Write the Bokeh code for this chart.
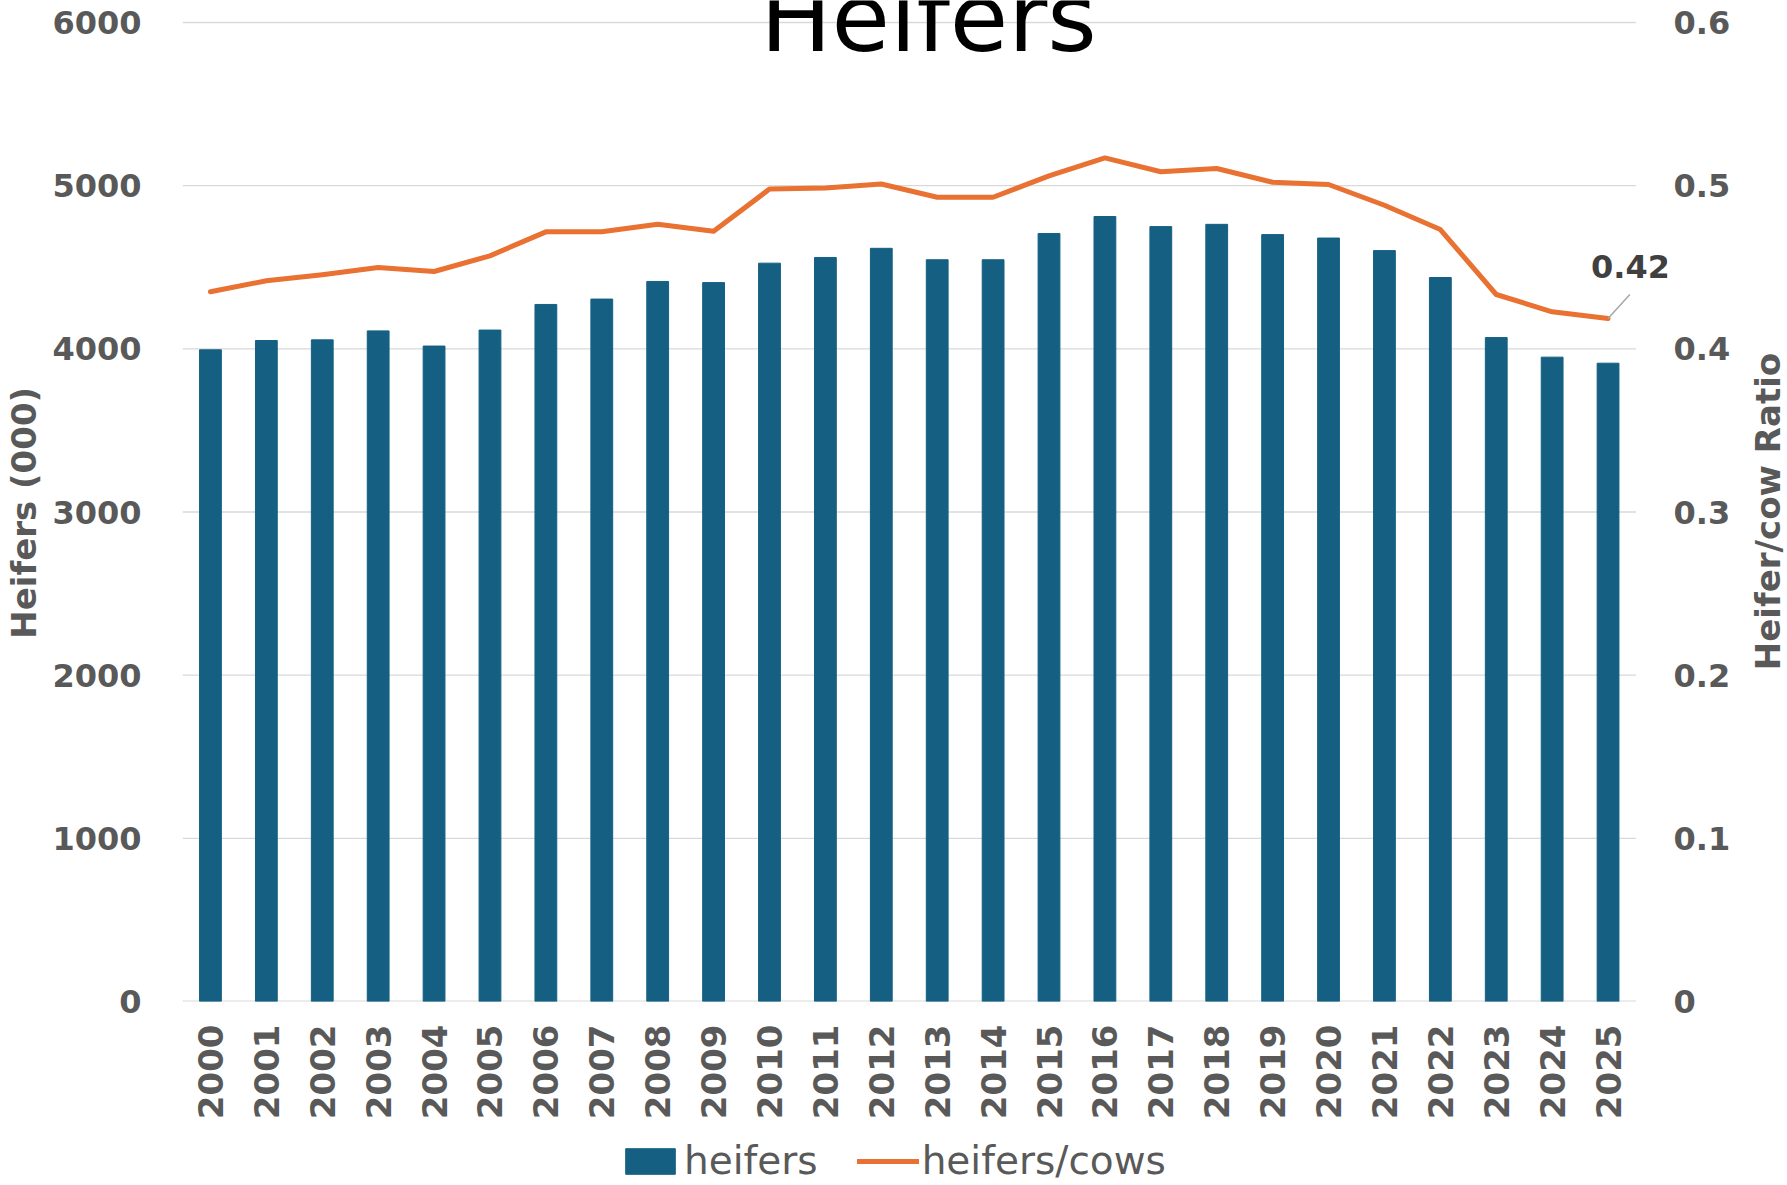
import math
from bokeh.plotting import figure
from bokeh.layouts import column, row
from bokeh.models import Range1d, LinearAxis, FixedTicker, Label, Legend, LegendItem
from bokeh.embed import file_html
from bokeh.resources import INLINE

# ---- data ----
years = list(range(2000, 2026))
heifers = [3994, 4051, 4055, 4110, 4017, 4115, 4272, 4305, 4413, 4406,
           4525, 4560, 4616, 4546, 4546, 4707, 4811, 4749, 4763, 4700,
           4679, 4602, 4437, 4069, 3949, 3912]
ratio = [0.435, 0.4417, 0.4454, 0.4498, 0.4474, 0.457, 0.4717, 0.4717, 0.4763, 0.472,
         0.4979, 0.4986, 0.5010, 0.4929, 0.4929, 0.5060, 0.5170, 0.5085, 0.5105, 0.5021,
         0.5007, 0.4880, 0.4731, 0.4333, 0.4227, 0.4186]
left_ticks = [0, 1000, 2000, 3000, 4000, 5000, 6000]
right_ticks = [0, 0.1, 0.2, 0.3, 0.4, 0.5, 0.6]
right_tick_labels = ["0", "0.1", "0.2", "0.3", "0.4", "0.5", "0.6"]
title_text = "Heifers"
left_title = "Heifers (000)"
right_title = "Heifer/cow Ratio"
series_names = ["heifers", "heifers/cows"]
last_label = f"{ratio[-1]:.2f}"

BAR = "#156082"
ORANGE = "#E97132"
GRAY = "#595959"
GRID = "#d9d9d9"
FONT = "DejaVu Sans"

# ---- layout (page pixels) ----
WP, WR = 1740, 45     # chart width, right-title strip width
HP, HL = 1128, 55     # chart height, legend strip height
LEFT = 182            # frame left
BAR_RIGHT = 1635.5    # right edge of category area
FR = 1667             # frame right (extra room for the data label)
FB = 1001             # frame bottom (value 0)
TOPLINE = 22          # y of the 6000 gridline
FW = FR - LEFT
FH = FB               # frame starts at the canvas top
cat_w = (BAR_RIGHT - LEFT) / len(years)
x0 = years[0] - 0.5
x1 = x0 + FW / cat_w
ymax_left = left_ticks[-1] * FH / (FB - TOPLINE)
ymax_right = right_ticks[-1] * FH / (FB - TOPLINE)

p = figure(width=WP, height=HP, output_backend="svg", toolbar_location=None, tools="",
           title_location=None,
           x_range=Range1d(x0, x1), y_range=Range1d(0, ymax_left),
           min_border_left=LEFT, min_border_right=WP - FR,
           min_border_top=0, min_border_bottom=HP - FB)
p.extra_y_ranges = {"ratio": Range1d(0, ymax_right)}
p.outline_line_color = None
p.background_fill_color = "white"
p.border_fill_color = "white"
p.xgrid.visible = False
p.ygrid.visible = False

# gridlines over the category area only
p.segment(x0=[x0] * len(left_ticks), x1=[years[-1] + 0.5] * len(left_ticks),
          y0=left_ticks, y1=left_ticks, line_color=GRID,
          line_width=[2] + [1.4] * (len(left_ticks) - 1))

# left axis
ya = p.yaxis[0]
ya.ticker = FixedTicker(ticks=left_ticks)
ya.axis_line_color = None
ya.major_tick_line_color = None
ya.minor_tick_line_color = None
ya.major_label_standoff = 35
ya.major_label_text_font = FONT
ya.major_label_text_font_style = "bold"
ya.major_label_text_font_size = "32px"
ya.major_label_text_color = GRAY
ya.axis_label = left_title + "\u00a0\u00a0"
ya.axis_label_standoff = 5
ya.axis_label_text_font = FONT
ya.axis_label_text_font_style = "bold"
ya.axis_label_text_font_size = "34px"
ya.axis_label_text_color = GRAY

# right axis
ra = LinearAxis(y_range_name="ratio", ticker=FixedTicker(ticks=right_ticks),
                major_label_overrides={t: s for t, s in zip(right_ticks, right_tick_labels)})
ra.axis_line_color = None
ra.major_tick_line_color = None
ra.minor_tick_line_color = None
ra.major_label_standoff = 0
ra.major_label_text_font = FONT
ra.major_label_text_font_style = "bold"
ra.major_label_text_font_size = "32px"
ra.major_label_text_color = GRAY
p.add_layout(ra, "right")

# bottom axis
xa = p.xaxis[0]
xa.ticker = FixedTicker(ticks=years)
xa.major_label_orientation = math.pi / 2
xa.major_label_standoff = 17
xa.major_tick_line_color = None
xa.minor_tick_line_color = None
xa.axis_line_color = None
xa.major_label_text_font = FONT
xa.major_label_text_font_style = "bold"
xa.major_label_text_font_size = "34px"
xa.major_label_text_color = GRAY

# glyphs
p.vbar(x=years, top=heifers, width=0.39, fill_color=BAR, line_color=BAR)
p.line(years, ratio, y_range_name="ratio", line_color=ORANGE, line_width=5,
       line_join="round", line_cap="round")

# data label for the last point
p.segment(x0=[years[-1]], y0=[ratio[-1]], x1=[years[-1] + 0.39], y1=[ratio[-1] + 0.0147],
          y_range_name="ratio", line_color="#a6a6a6", line_width=1.5)
p.add_layout(Label(x=years[-1], y=ratio[-1], y_range_name="ratio", text=last_label,
                   x_offset=-17, y_offset=52, text_font=FONT, text_font_style="bold",
                   text_font_size="32px", text_color="#404040",
                   text_align="left", text_baseline="alphabetic"))

# chart title (cut by the top edge as in the original)
p.add_layout(Label(x=928 - LEFT, y=FB - 54 + 37, x_units="screen", y_units="screen",
                   text=title_text, text_font=FONT, text_font_size="95px",
                   text_color="black", text_align="center", text_baseline="alphabetic"))

# right axis title strip
pr = figure(width=WR, height=HP, output_backend="svg", toolbar_location=None, tools="",
            title_location=None, x_range=Range1d(0, 1), y_range=Range1d(0, 1),
            min_border_left=0, min_border_right=0, min_border_top=0,
            min_border_bottom=HP - FB)
pr.axis.visible = False
pr.grid.visible = False
pr.outline_line_color = None
pr.background_fill_color = "white"
pr.border_fill_color = "white"
pr.add_layout(Label(x=1767 - WP, y=FB - 511, x_units="screen", y_units="screen",
                    text=right_title, angle=math.pi / 2, text_font=FONT,
                    text_font_style="bold", text_font_size="34px", text_color=GRAY,
                    text_align="center", text_baseline="middle"))

# legend strip below the chart
pl = figure(width=WP + WR, height=HL, output_backend="svg", toolbar_location=None, tools="",
            title_location=None, x_range=Range1d(0, 1), y_range=Range1d(0, 1),
            min_border_left=0, min_border_right=0, min_border_top=0, min_border_bottom=0)
pl.axis.visible = False
pl.grid.visible = False
pl.outline_line_color = None
pl.background_fill_color = "white"
pl.border_fill_color = "white"
# legend swatch renderers (same series, outside this strip's visible range)
sw_bar = pl.vbar(x=years, top=heifers, width=0.39, fill_color=BAR, line_color=BAR)
sw_line = pl.line(years, ratio, line_color=ORANGE, line_width=5, line_cap="round")
legend = Legend(items=[LegendItem(label=series_names[0], renderers=[sw_bar]),
                       LegendItem(label=series_names[1], renderers=[sw_line])],
                orientation="horizontal", location=(619, 0),
                background_fill_alpha=0, border_line_alpha=0, padding=0, margin=0,
                spacing=39, label_standoff=3, glyph_width=62, glyph_height=32,
                label_text_font=FONT, label_text_font_size="39px", label_text_color=GRAY)
pl.add_layout(legend, "center")

layout = column(row(p, pr, spacing=0), pl, spacing=0)
open("out.html", "w").write(file_html(layout, INLINE))
